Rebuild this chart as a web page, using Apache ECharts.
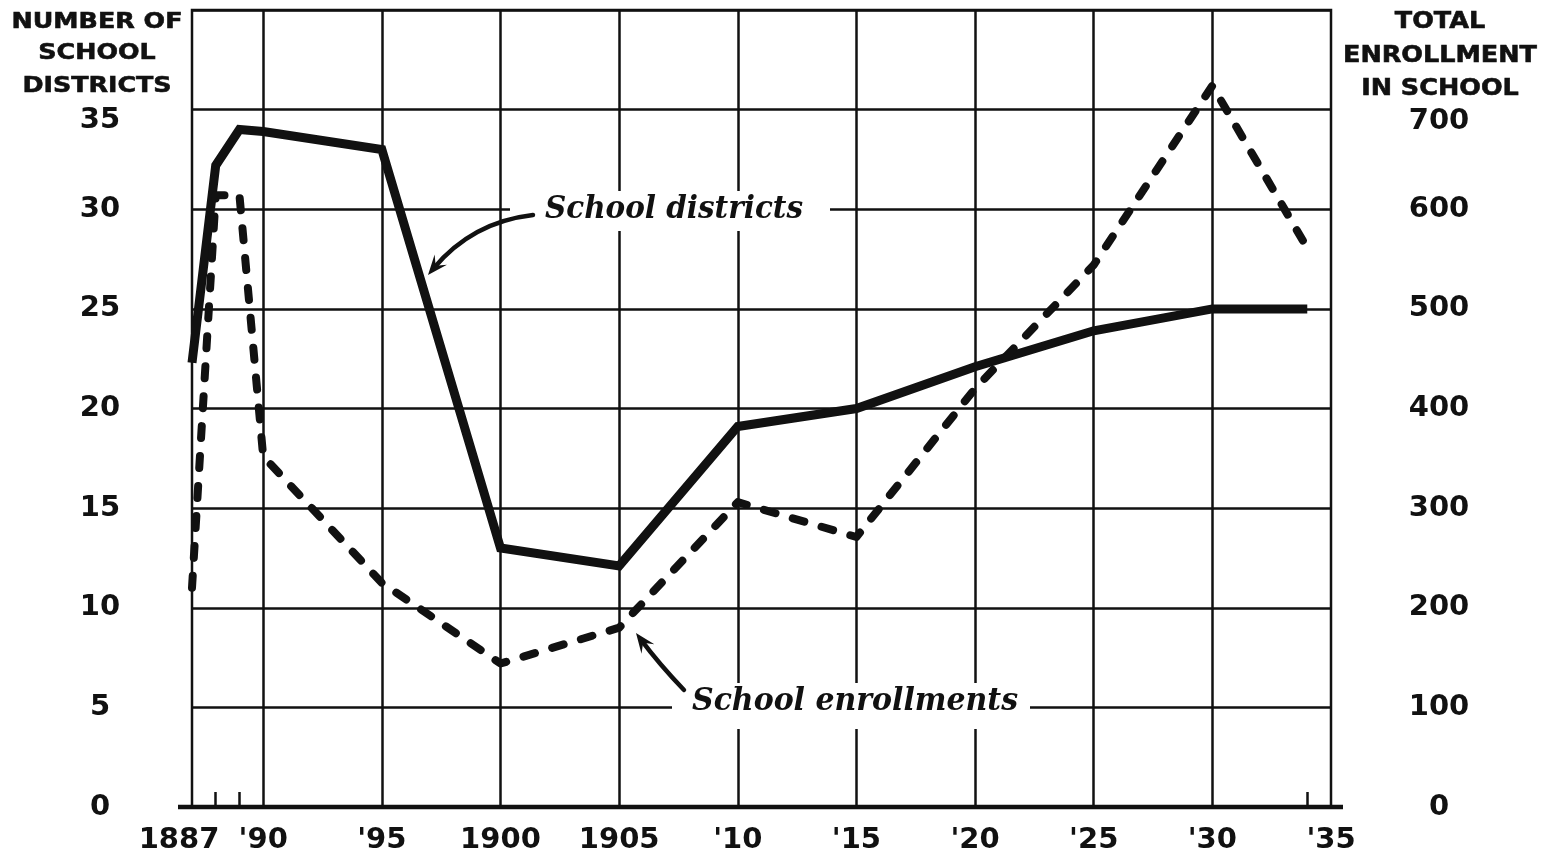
<!DOCTYPE html>
<html><head><meta charset="utf-8">
<script src="https://cdn.jsdelivr.net/npm/echarts@6/dist/echarts.min.js"></script>
<style>html,body{margin:0;padding:0;background:#fff}#c{width:1551px;height:861px}</style>
</head><body><div id="c"></div>
<script>
// ---- data ----
const years = [1887, 1888, 1889, 1890, 1895, 1900, 1905, 1910, 1915, 1920, 1925, 1930, 1934];
const schoolDistricts = [22.3, 32.2, 34.0, 33.9, 33.0, 13.0, 12.1, 19.1, 20.0, 22.1, 23.9, 25.0, 25.0];
const schoolEnrollments = [220, 614, 614, 352, 225, 144, 180, 306, 271, 420, 544, 724, 561];
const xLabelYears = [1887, 1890, 1895, 1900, 1905, 1910, 1915, 1920, 1925, 1930, 1935];
const gridYears = [1890, 1895, 1900, 1905, 1910, 1915, 1920, 1925, 1930];
const minorTickYears = [1888, 1889, 1934];
const leftTitle = ['NUMBER OF', 'SCHOOL', 'DISTRICTS'];
const rightTitle = ['TOTAL', 'ENROLLMENT', 'IN SCHOOL'];
const districtsLabel = 'School districts';
const enrollmentsLabel = 'School enrollments';

// ---- style ----
const INK = '#111';
const SANS = '"DejaVu Sans", sans-serif';
const SERIF = '"DejaVu Serif", serif';
const TICK_FS = 29;

const cv = document.createElement('canvas').getContext('2d');
function measure(text, font) { cv.font = font; return cv.measureText(text).width; }

function xFmt(v) {
  if (v === 1887) return '{l|1887}';
  if (v === 1900 || v === 1905) return String(v);
  return "'" + String(v).slice(2);
}
const tickFont = { fontSize: TICK_FS, fontWeight: 'bold', fontFamily: SANS, color: INK };

const chart = echarts.init(document.getElementById('c'), null, { renderer: 'canvas' });

const grid = { left: 192, right: 220, top: 10, bottom: 54 };

const option = {
  animation: false,
  backgroundColor: '#fff',
  grid: Object.assign({ show: true, borderColor: INK, borderWidth: 2.5, backgroundColor: 'transparent' }, grid),
  xAxis: {
    type: 'value', min: 1887, max: 1935,
    axisLine: { show: false },
    splitLine: { show: false },
    axisTick: { show: true, inside: true, length: 15, customValues: minorTickYears, lineStyle: { color: INK, width: 2.5 } },
    axisLabel: Object.assign({
      customValues: xLabelYears, margin: 19, formatter: xFmt,
      rich: { l: Object.assign({ padding: [0, 26, 0, 0] }, tickFont) }
    }, tickFont)
  },
  yAxis: [
    {
      type: 'value', min: 0, max: 40, interval: 5, position: 'left',
      axisLine: { show: false }, axisTick: { show: false },
      splitLine: { show: true, lineStyle: { color: INK, width: 2.5 } },
      axisLabel: Object.assign({
        margin: 92, align: 'center',
        formatter: v => v === 40 ? '' : (v === 35 ? '{s|35}' : String(v)),
        rich: { s: Object.assign({ padding: [22, 0, 0, 0] }, tickFont) }
      }, tickFont)
    },
    {
      type: 'value', min: 0, max: 800, interval: 100, position: 'right',
      axisLine: { show: false }, axisTick: { show: false },
      splitLine: { show: false },
      axisLabel: Object.assign({
        margin: 108, align: 'center',
        formatter: v => v === 800 ? '' : (v === 700 ? '{s|700}' : String(v)),
        rich: { s: Object.assign({ padding: [24, 0, 0, 0] }, tickFont) }
      }, tickFont)
    }
  ],
  series: [
    {
      name: districtsLabel, type: 'line', yAxisIndex: 0, showSymbol: false, z: 5,
      data: years.map((y, i) => [y, schoolDistricts[i]]),
      lineStyle: { color: INK, width: 9, join: 'miter', miterLimit: 4 },
      markLine: {
        silent: true, symbol: 'none', label: { show: false }, z: 1,
        lineStyle: { color: INK, width: 2.5, type: 'solid' },
        data: gridYears.map(y => ({ xAxis: y }))
      }
    },
    {
      name: enrollmentsLabel, type: 'line', yAxisIndex: 1, showSymbol: false, z: 5,
      data: years.map((y, i) => [y, schoolEnrollments[i]]),
      lineStyle: { color: INK, width: 8, type: [12, 18], cap: 'round', join: 'round' }
    }
  ]
};
chart.setOption(option);

// ---- annotations / titles (layout in pixels) ----
function titleBlock(lines, cx, ys, fontSize, targetW) {
  const font = 'bold ' + fontSize + 'px ' + SANS;
  let longest = 0;
  lines.forEach(t => { const w = measure(t, font); if (w > longest) longest = w; });
  const sx = targetW / longest;
  return lines.map((t, i) => ({
    type: 'text', x: cx, y: ys[i], scaleX: sx, z: 120,
    style: { text: t, font: font, fill: INK, align: 'center', verticalAlign: 'middle', stroke: INK, lineWidth: 0.6 }
  }));
}
function annot(text, cx, cy, targetW, fontSize, box) {
  const font = 'italic bold ' + fontSize + 'px ' + SERIF;
  const sx = targetW / measure(text, font);
  return [
    { type: 'rect', z: 100, shape: { x: box[0], y: box[1], width: box[2] - box[0], height: box[3] - box[1] }, style: { fill: '#fff' } },
    { type: 'text', x: cx, y: cy, scaleX: sx, z: 120, style: { text: text, font: font, fill: INK, align: 'center', verticalAlign: 'middle' } }
  ];
}
function arrow(p0, c, p2, w) {
  const dx = p2[0] - c[0], dy = p2[1] - c[1];
  const L = Math.hypot(dx, dy), ux = dx / L, uy = dy / L, px = -uy, py = ux;
  const len = 20, half = 8, notch = 8;
  const back = [p2[0] - ux * len, p2[1] - uy * len];
  return [
    { type: 'bezierCurve', z: 110, shape: { x1: p0[0], y1: p0[1], cpx1: c[0], cpy1: c[1], x2: p2[0] - ux * 8, y2: p2[1] - uy * 8 },
      style: { stroke: INK, lineWidth: w, fill: 'none', lineCap: 'round' } },
    { type: 'polygon', z: 110, shape: { points: [p2, [back[0] + px * half, back[1] + py * half], [p2[0] - ux * (len - notch), p2[1] - uy * (len - notch)], [back[0] - px * half, back[1] - py * half]] },
      style: { fill: INK } }
  ];
}

const elements = []
  .concat(titleBlock(leftTitle, 97, [22, 53, 86], 22, 171))
  .concat(titleBlock(rightTitle, 1440, [22, 56, 89], 23, 194))
  .concat(annot(districtsLabel, 674, 210, 258, 32, [510, 191, 830, 231]))
  .concat(annot(enrollmentsLabel, 855, 702, 326, 32, [672, 683, 1030, 729]))
  .concat(arrow([533, 215], [472, 222], [428, 275], 4.5))
  .concat(arrow([684, 690], [659, 664], [636, 633], 4.5))
  .concat([{ type: 'line', z: 90, shape: { x1: 178, y1: 807, x2: 1343, y2: 807 }, style: { stroke: INK, lineWidth: 4.5 } }]);

chart.setOption({ graphic: { elements: elements } });
</script></body></html>
